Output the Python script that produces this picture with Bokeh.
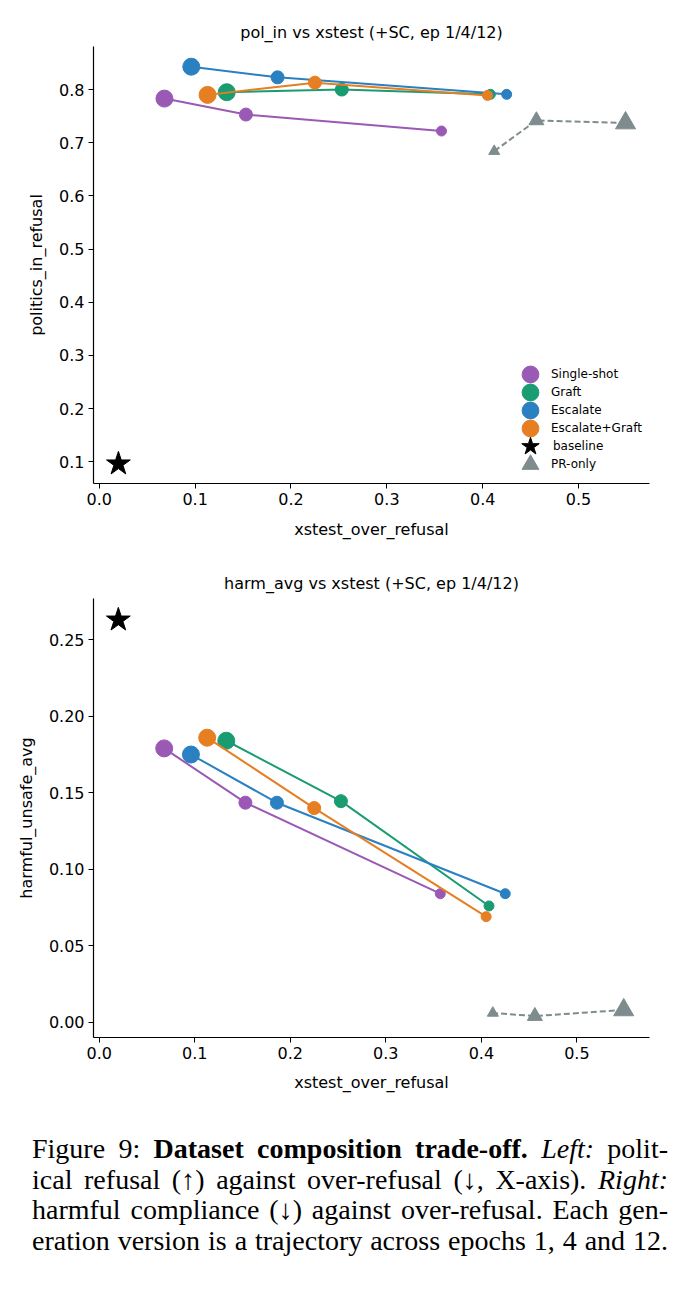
from bokeh.plotting import figure
from bokeh.models import (Legend, LegendItem, Div, ColumnDataSource, Range1d,
                          FixedTicker, NumeralTickFormatter)
from bokeh.layouts import column
from bokeh.embed import file_html
from bokeh.resources import INLINE

# ---------------- data ----------------
EPOCHS = [1, 4, 12]
VERSIONS = ["Single-shot", "Graft", "Escalate", "Escalate+Graft"]

single_xstest = [0.068, 0.153, 0.357]
graft_xstest = [0.133, 0.253, 0.408]
escalate_xstest = [0.096, 0.186, 0.425]
escgraft_xstest = [0.113, 0.225, 0.405]
pronly_xstest = [0.549, 0.456, 0.412]
baseline_xstest = [0.020]

single_pol = [0.783, 0.753, 0.722]
graft_pol = [0.795, 0.800, 0.791]
escalate_pol = [0.843, 0.823, 0.791]
escgraft_pol = [0.790, 0.813, 0.789]
pronly_pol = [0.737, 0.742, 0.684]
baseline_pol = [0.096]

single_harm = [0.179, 0.1435, 0.084]
graft_harm = [0.184, 0.1445, 0.076]
escalate_harm = [0.175, 0.1435, 0.084]
escgraft_harm = [0.186, 0.140, 0.069]
pronly_harm = [0.008, 0.004, 0.006]
baseline_harm = [0.263]

TOP_Y_TICKS = [0.1, 0.2, 0.3, 0.4, 0.5, 0.6, 0.7, 0.8]
BOT_Y_TICKS = [0.00, 0.05, 0.10, 0.15, 0.20, 0.25]
X_TICKS = [0.0, 0.1, 0.2, 0.3, 0.4, 0.5]
LEGEND_ORDER = VERSIONS + ["baseline", "PR-only"]

# ---------------- style ----------------
COLORS = {"Single-shot": "#9b59b6", "Graft": "#1a9c72", "Escalate": "#2a80c0",
          "Escalate+Graft": "#e67e22", "PR-only": "#7f8c8d", "baseline": "black"}
DOT_SIZES = [17, 13, 10]
TRI_SIZES = [20, 15, 11]
FONT = "DejaVu Sans"

series_x = {"Single-shot": single_xstest, "Graft": graft_xstest,
            "Escalate": escalate_xstest, "Escalate+Graft": escgraft_xstest}
series_pol = {"Single-shot": single_pol, "Graft": graft_pol,
              "Escalate": escalate_pol, "Escalate+Graft": escgraft_pol}
series_harm = {"Single-shot": single_harm, "Graft": graft_harm,
               "Escalate": escalate_harm, "Escalate+Graft": escgraft_harm}


def style(p, ylabel, yticks, yfmt, title_standoff, xlabel_standoff):
    p.title.align = "center"
    p.title.text_font = FONT
    p.title.text_font_size = "16px"
    p.title.text_font_style = "normal"
    p.title.text_color = "black"
    p.title.standoff = title_standoff
    p.xgrid.visible = False
    p.ygrid.visible = False
    p.outline_line_color = None
    p.xaxis.axis_label = "xstest_over_refusal"
    p.yaxis.axis_label = ylabel
    p.xaxis.ticker = FixedTicker(ticks=X_TICKS)
    p.yaxis.ticker = FixedTicker(ticks=yticks)
    p.xaxis.formatter = NumeralTickFormatter(format="0.0")
    p.yaxis.formatter = NumeralTickFormatter(format=yfmt)
    for ax in (p.xaxis, p.yaxis):
        ax.axis_label_text_font = FONT
        ax.axis_label_text_font_size = "16px"
        ax.axis_label_text_font_style = "normal"
        ax.axis_label_text_color = "black"
        ax.major_label_text_font = FONT
        ax.major_label_text_font_size = "16px"
        ax.major_label_text_color = "black"
        ax.axis_line_color = "black"
        ax.axis_line_width = 1.2
        ax.major_tick_line_color = "black"
        ax.major_tick_in = 0
        ax.major_tick_out = 5
        ax.minor_tick_line_color = None
        ax.major_label_standoff = 4
    p.xaxis.axis_label_standoff = xlabel_standoff
    p.yaxis.axis_label_standoff = 10


def draw(p, yvals, pr_y, base_y):
    rends = {}
    for name in VERSIONS:
        src = ColumnDataSource(dict(x=series_x[name], y=yvals[name], s=DOT_SIZES))
        p.line("x", "y", source=src, line_color=COLORS[name], line_width=2)
        rends[name] = p.scatter("x", "y", source=src, size="s", marker="circle",
                                fill_color=COLORS[name], line_color=COLORS[name])
    src = ColumnDataSource(dict(x=pronly_xstest, y=pr_y, s=TRI_SIZES))
    p.line("x", "y", source=src, line_color=COLORS["PR-only"], line_width=2,
           line_dash="6 3")
    rends["PR-only"] = p.scatter("x", "y", source=src, size="s", marker="triangle",
                                 fill_color=COLORS["PR-only"],
                                 line_color=COLORS["PR-only"])
    bsrc = ColumnDataSource(dict(x=baseline_xstest, y=base_y))
    rends["baseline"] = p.scatter("x", "y", source=bsrc, size=25, marker="star",
                                  fill_color="black", line_color="black")
    return rends


# ---------------- top ----------------
p1 = figure(width=675, height=560, output_backend="svg", toolbar_location=None,
            x_range=Range1d(-0.006, 0.574), y_range=Range1d(0.059, 0.881),
            min_border_left=90, min_border_right=26, min_border_top=46,
            min_border_bottom=77, title="pol_in vs xstest (+SC, ep 1/4/12)")
style(p1, "politics_in_refusal", TOP_Y_TICKS, "0.0", 10, 12)
r1 = draw(p1, series_pol, pronly_pol, baseline_pol)

# one legend block per entry, stacked 18px apart, so that the keys can be large
ROW = 18
n_items = len(LEGEND_ORDER)
for i, name in enumerate(LEGEND_ORDER):
    box = 46 if name == "baseline" else 42
    dx = (42 - box) // 2
    lg = Legend(items=[LegendItem(label=name, renderers=[r1[name]])],
                location=(416 + dx, -2 + ROW * (n_items - 1 - i) - (box - 42) // 2),
                glyph_width=box, glyph_height=box, padding=0, margin=0,
                label_standoff=0,
                label_text_font=FONT, label_text_font_size="12px",
                label_text_color="black", background_fill_alpha=0,
                border_line_color=None)
    p1.add_layout(lg, "center")

# ---------------- bottom ----------------
p2 = figure(width=675, height=557, output_backend="svg", toolbar_location=None,
            x_range=Range1d(-0.006, 0.576), y_range=Range1d(-0.010, 0.277),
            min_border_left=93, min_border_right=23, min_border_top=38,
            min_border_bottom=80, title="harm_avg vs xstest (+SC, ep 1/4/12)")
style(p2, "harmful_unsafe_avg", BOT_Y_TICKS, "0.00", 11, 11)
draw(p2, series_harm, pronly_harm, baseline_harm)

# ---------------- caption ----------------
lines = [
    "Figure 9: <b>Dataset composition trade-off.</b> <i>Left:</i> polit-",
    "ical refusal (\u2191) against over-refusal (\u2193, X-axis). <i>Right:</i>",
    "harmful compliance (\u2193) against over-refusal. Each gen-",
    "eration version is a trajectory across epochs 1, 4 and 12.",
]
html = '<div style="width:636px;">' + "".join(
    '<div style="text-align:justify;text-align-last:justify;white-space:nowrap;">%s</div>' % l
    for l in lines) + "</div>"
cap = Div(text=html, width=636,
          styles={"font-family": "'Liberation Serif', 'Times New Roman', serif",
                  "font-size": "28px", "line-height": "30.6px", "color": "black",
                  "margin-left": "32px", "margin-top": "17px"})

layout = column(p1, p2, cap, spacing=0)
open("out.html", "w").write(file_html(layout, INLINE))
